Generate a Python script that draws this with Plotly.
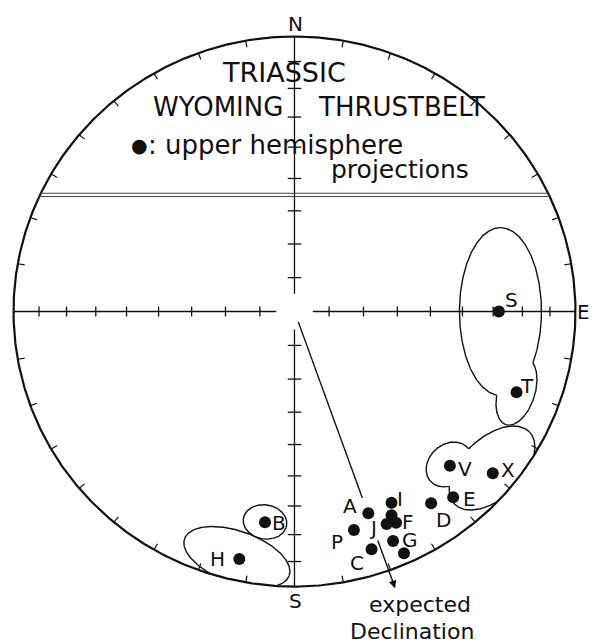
import numpy as np
import plotly.graph_objects as go

# site mean directions, upper hemisphere
sites = ["S", "T", "V", "X", "E", "D", "I", "A", "", "F", "J", "P", "G", "C", "", "B", "H"]
dec = [90.0, 110.4, 135.4, 129.8, 140.1, 145.1, 153.6, 160.3, 155.0, 154.8, 157.0, 165.1, 157.2, 162.4, 156.1, 187.8, 192.3]
inc = [-28.1, -16.8, -22.3, -9.0, -13.0, -16.1, -23.4, -23.1, -19.4, -16.2, -17.2, -18.9, -10.4, -10.2, -4.3, -23.7, -8.7]

# confidence ovals (net units: centre, semi-axes, tilt in deg)
ov_site = ["S", "T", "V", "X", "B", "H"]
ov_x = [0.733, 0.790, 0.550, 0.703, -0.105, -0.205]
ov_y = [0.000, -0.291, -0.556, -0.569, -0.765, -0.893]
ov_a = [0.305, 0.126, 0.090, 0.187, 0.078, 0.198]
ov_b = [0.146, 0.066, 0.072, 0.108, 0.062, 0.094]
ov_rot = [90, 73, 45, 45, -10, -20]

exp_dec = 160.4

# net tick inclinations along the axes
tick_inc = [80, 70, 60, 50, 40, 30, 20, 10]


def schmidt(d, i):
    r = np.sqrt(2) * np.sin(np.radians(90 - np.abs(i)) / 2)
    return r * np.sin(np.radians(d)), r * np.cos(np.radians(d))


def inside(x, y, k):
    c, s = np.cos(np.radians(ov_rot[k])), np.sin(np.radians(ov_rot[k]))
    dx, dy = x - ov_x[k], y - ov_y[k]
    xr = dx * c + dy * s
    yr = -dx * s + dy * c
    return (xr / ov_a[k]) ** 2 + (yr / ov_b[k]) ** 2 < 0.995


fig = go.Figure()
ink = "#111111"

# primitive circle
th = np.linspace(0, 2 * np.pi, 721)
fig.add_trace(go.Scatter(x=np.sin(th), y=np.cos(th), mode="lines",
                         line=dict(color=ink, width=2.2), hoverinfo="skip"))

# 10 degree ticks on the primitive
px, py = [], []
for az in range(10, 360, 10):
    if az % 90 == 0:
        continue
    a = np.radians(az)
    px += [np.sin(a), 0.975 * np.sin(a), None]
    py += [np.cos(a), 0.975 * np.cos(a), None]
fig.add_trace(go.Scatter(x=px, y=py, mode="lines", line=dict(color=ink, width=1.2), hoverinfo="skip"))

# N-S / E-W axes with a gap at the centre
gap = 0.065
ax_x = [0, 0, None, 0, 0, None, -1, -gap, None, gap, 1]
ax_y = [1, gap, None, -gap, -1, None, 0, 0, None, 0, 0]
fig.add_trace(go.Scatter(x=ax_x, y=ax_y, mode="lines", line=dict(color=ink, width=1.3), hoverinfo="skip"))

tx, ty = [], []
for i in tick_inc:
    r = np.sqrt(2) * np.sin(np.radians(90 - i) / 2)
    for s in (1, -1):
        tx += [-0.024, 0.024, None, s * r, s * r, None]
        ty += [s * r, s * r, None, -0.018, 0.018, None]
fig.add_trace(go.Scatter(x=tx, y=ty, mode="lines", line=dict(color=ink, width=1.3), hoverinfo="skip"))

# double crease line across the upper half
for yy in (0.430, 0.418):
    hw = np.sqrt(1 - yy ** 2)
    fig.add_trace(go.Scatter(x=[-hw, hw], y=[yy, yy], mode="lines",
                             line=dict(color="#444444", width=1), hoverinfo="skip"))

# confidence ovals, drawn as the outline of their union
t = np.linspace(0, 2 * np.pi, 500)
for k in range(len(ov_site)):
    c, s = np.cos(np.radians(ov_rot[k])), np.sin(np.radians(ov_rot[k]))
    ex = ov_x[k] + ov_a[k] * np.cos(t) * c - ov_b[k] * np.sin(t) * s
    ey = ov_y[k] + ov_a[k] * np.cos(t) * s + ov_b[k] * np.sin(t) * c
    hide = ex ** 2 + ey ** 2 > 1
    for j in range(len(ov_site)):
        if j != k:
            hide |= inside(ex, ey, j)
    ex = np.where(hide, np.nan, ex)
    ey = np.where(hide, np.nan, ey)
    fig.add_trace(go.Scatter(x=ex, y=ey, mode="lines", line=dict(color=ink, width=1.4),
                             connectgaps=False, hoverinfo="skip"))

# expected declination line
a = np.radians(exp_dec)
fig.add_trace(go.Scatter(x=[0.04 * np.sin(a), 0.72 * np.sin(a)], y=[0.04 * np.cos(a), 0.72 * np.cos(a)],
                         mode="lines", line=dict(color=ink, width=1.4), hoverinfo="skip"))
fig.add_annotation(x=1.068 * np.sin(a), y=1.068 * np.cos(a), ax=0.878 * np.sin(a), ay=0.878 * np.cos(a),
                   xref="x", yref="y", axref="x", ayref="y", text="", showarrow=True,
                   arrowhead=2, arrowsize=1.1, arrowwidth=1.4, arrowcolor=ink)

# site directions
sx, sy = schmidt(np.array(dec), np.array(inc))
fig.add_trace(go.Scatter(x=sx, y=sy, mode="markers", marker=dict(color=ink, size=12),
                         hoverinfo="skip"))

font = dict(family="DejaVu Sans", color=ink)

# site labels, pixel offsets from the dot
lab_off = {"S": (13, -12), "T": (10, -6), "V": (15, 3), "X": (15, -3), "E": (16, 2), "D": (12, 17),
           "I": (8, -4), "A": (-18, -7), "F": (12, -1), "J": (-14, 4), "P": (-17, 12), "G": (17, -1),
           "C": (-15, 14), "B": (14, 1), "H": (-22, 0)}
for name, x, y in zip(sites, sx, sy):
    if not name:
        continue
    dx, dy = lab_off[name]
    fig.add_annotation(x=x, y=y, text=name, showarrow=False, xshift=dx, yshift=-dy,
                       font=dict(font, size=20))

# compass letters
fig.add_annotation(x=0.004, y=1.045, text="N", showarrow=False, font=dict(font, size=20))
fig.add_annotation(x=1.028, y=0.0, text="E", showarrow=False, font=dict(font, size=20))
fig.add_annotation(x=0.004, y=-1.053, text="S", showarrow=False, font=dict(font, size=20))

# title block
fig.add_annotation(x=-0.037, y=0.869, text="TRIASSIC", showarrow=False, font=dict(font, size=27))
fig.add_annotation(x=-0.274, y=0.742, text="WYOMING", showarrow=False, font=dict(font, size=26))
fig.add_annotation(x=0.381, y=0.742, text="THRUSTBELT", showarrow=False, font=dict(font, size=26))
fig.add_annotation(x=-0.553, y=0.607, text="●", showarrow=False, font=dict(font, size=19))
fig.add_annotation(x=-0.527, y=0.605, text=": upper hemisphere", showarrow=False, xanchor="left",
                   font=dict(font, size=26))
fig.add_annotation(x=0.377, y=0.515, text="projections", showarrow=False, font=dict(font, size=25))
fig.add_annotation(x=0.447, y=-1.064, text="expected", showarrow=False, font=dict(font, size=22))
fig.add_annotation(x=0.418, y=-1.165, text="Declination", showarrow=False, font=dict(font, size=22))

fig.update_layout(
    width=593, height=641, autosize=False,
    margin=dict(l=0, r=0, t=0, b=0),
    paper_bgcolor="white", plot_bgcolor="white",
    showlegend=False,
    xaxis=dict(range=[-1.048, 1.0623], visible=False, fixedrange=True),
    yaxis=dict(range=[-1.198, 1.1327], visible=False, fixedrange=True),
)

# drop the browser's default body margin so the figure sits at the page corner
fig.write_html("out.html", config={"displayModeBar": False},
               post_script="document.body.style.margin='0';")
